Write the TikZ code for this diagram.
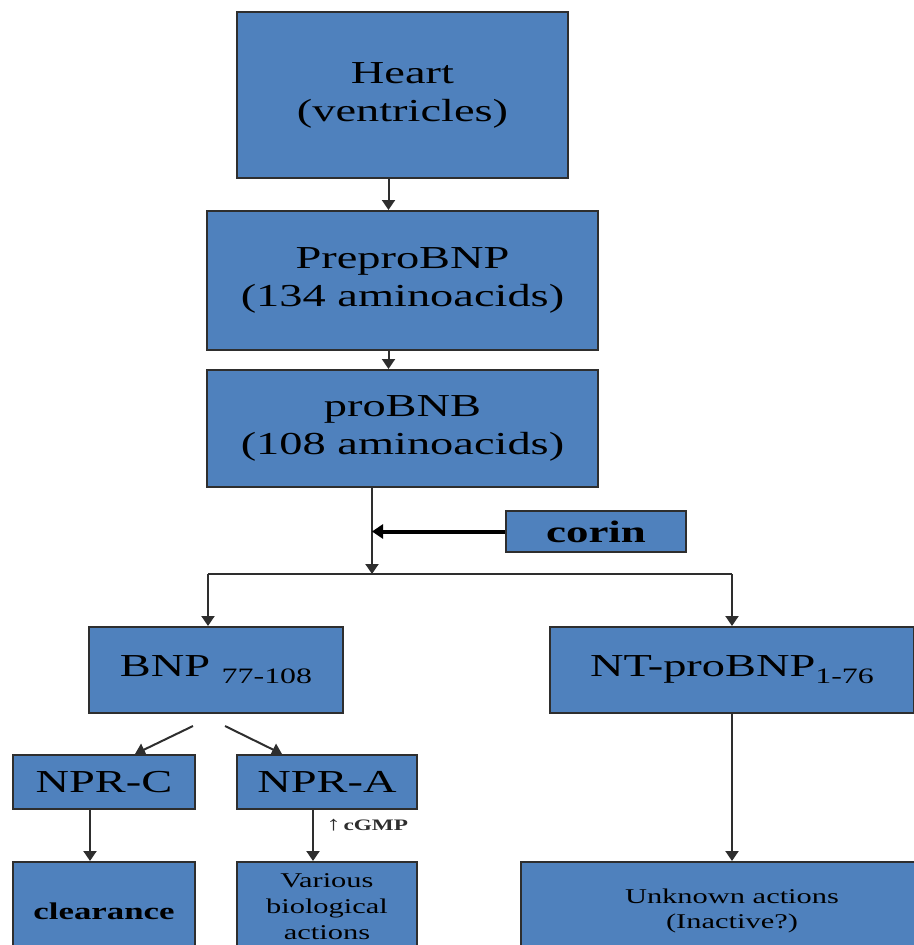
\documentclass[tikz,border=0pt]{standalone}
\usepackage{fontspec}
\setmainfont[FakeStretch=1.45]{Liberation Serif}
\usetikzlibrary{arrows.meta,positioning,calc}
\definecolor{boxblue}{HTML}{4F81BD}
\definecolor{edgegray}{HTML}{2E2E2E}
\newcommand{\bigtxt}{\fontsize{32}{38}\selectfont}
\newcommand{\subtxt}{\fontsize{22}{26}\selectfont}
\newcommand{\smalltxt}{\fontsize{21}{26}\selectfont}

\begin{document}
\begin{tikzpicture}[x=1pt,y=-1pt,
      box/.style={draw=edgegray,line width=2pt,fill=boxblue,align=center,inner sep=0pt,font=\bigtxt},
      arr/.style={-{Triangle[length=10pt,width=13pt]},line width=2pt,edgegray},
      link/.style={line width=2pt,edgegray},
      heavyarr/.style={-{Triangle[length=11pt,width=14pt]},line width=4pt,black}
    ]
    \useasboundingbox (0,0) rectangle (913,945);
    % main chain
    \node[box,minimum width=331pt,minimum height=166pt] (heart) at (402.5,95) {Heart\\(ventricles)};
    \node[box,minimum width=391pt,minimum height=139pt] (prepro) at (402.5,280.5) {PreproBNP\\(134 aminoacids)};
    \node[box,minimum width=391pt,minimum height=117pt] (pro) at (402.5,428.5) {proBNB\\(108 aminoacids)};
    \node[box,minimum width=180pt,minimum height=41pt,font=\fontsize{31}{36}\selectfont\bfseries] (corin) at (596,531.5) {corin};
    \node[box,minimum width=254pt,minimum height=86pt] (bnp) at (216,670) {BNP \raisebox{-7pt}{\subtxt 77-108}};
    \node[box,minimum width=364pt,minimum height=86pt] (nt) at (732,670) {NT-proBNP\raisebox{-7pt}{\subtxt 1-76}};
    % receptors
    \node[box,minimum width=182pt,minimum height=54pt] (nprc) at (104,782) {NPR-C};
    \node[box,minimum width=180pt,minimum height=54pt] (npra) at (327,782) {NPR-A};
    % effects
    \node[box,minimum width=182pt,minimum height=98pt,font=\fontsize{24}{28}\selectfont\bfseries] (clear) at (104,911) {clearance};
    \node[box,minimum width=180pt,minimum height=90pt,font=\smalltxt] (various) at (327,907) {Various\\biological\\actions};
    \node[box,minimum width=422pt,minimum height=98pt,font=\fontsize{21}{25}\selectfont] (unknown) at (732,911) {Unknown actions\\(Inactive?)};
    \coordinate (split) at (372,574);
    \coordinate (lft) at (208,574);
    \coordinate (rgt) at (732,574);
    \draw[arr] ([xshift=-14pt]heart.south) -- ([xshift=-14pt]prepro.north);
    \draw[arr] ([xshift=-14pt]prepro.south) -- ([xshift=-14pt]pro.north);
    \draw[arr] ([xshift=-30.5pt]pro.south) -- (split);
    \draw[heavyarr] (corin.west) -- (corin.west -| split);
    \draw[link] (lft) -- (rgt);
    \draw[arr] (lft) -- (lft |- bnp.north);
    \draw[arr] (rgt) -- (rgt |- nt.north);
    \draw[arr] ([xshift=-23pt,yshift=-12pt]bnp.south) -- ([xshift=31pt]nprc.north);
    \draw[arr] ([xshift=9pt,yshift=-12pt]bnp.south) -- ([xshift=-45pt]npra.north);
    \draw[arr] ([xshift=-14pt]nprc.south) -- ([xshift=-14pt]clear.north);
    \draw[arr] ([xshift=-14pt]npra.south) -- node[pos=0.3,right=9pt,font=\fontsize{16}{18}\selectfont\bfseries] (cgmp) {{\fontsize{20}{20}\selectfont ↑}\,cGMP} ([xshift=-14pt]various.north);
    \draw[arr] (nt.south) -- (unknown.north);
  \end{tikzpicture}
\end{document}
